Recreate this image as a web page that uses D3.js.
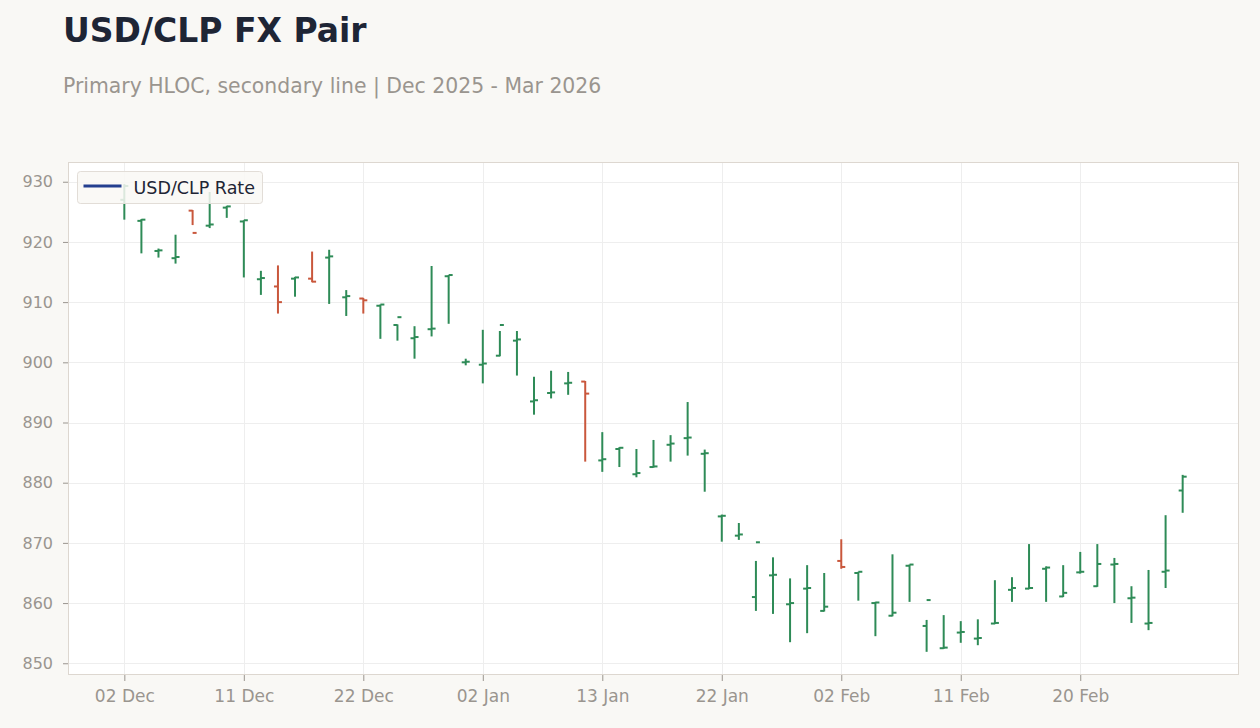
<!DOCTYPE html>
<html>
<head>
<meta charset="utf-8">
<script src="https://cdn.jsdelivr.net/npm/d3@7"></script>
<style>
  body { margin: 0; background: #f9f8f5; font-family: "DejaVu Sans", sans-serif; }
  .axisNormal text { fill: #9a958f; font-family: "DejaVu Sans", sans-serif; }
  .axisNormal path { display: none; }
  .axisNormal line { stroke: #9a958f; }
</style>
</head>
<body>
<svg id="svgchart" width="1260" height="728"></svg>
<script>
// trading days (Dec 25 and Jan 1 skipped)
var days = ["2025-12-02","2025-12-03","2025-12-04","2025-12-05","2025-12-08","2025-12-09","2025-12-10","2025-12-11","2025-12-12",
  "2025-12-15","2025-12-16","2025-12-17","2025-12-18","2025-12-19","2025-12-22","2025-12-23","2025-12-24","2025-12-26",
  "2025-12-29","2025-12-30","2025-12-31","2026-01-02","2026-01-05","2026-01-06","2026-01-07","2026-01-08","2026-01-09",
  "2026-01-12","2026-01-13","2026-01-14","2026-01-15","2026-01-16","2026-01-19","2026-01-20","2026-01-21","2026-01-22",
  "2026-01-23","2026-01-26","2026-01-27","2026-01-28","2026-01-29","2026-01-30","2026-02-02","2026-02-03","2026-02-04",
  "2026-02-05","2026-02-06","2026-02-09","2026-02-10","2026-02-11","2026-02-12","2026-02-13","2026-02-16","2026-02-17",
  "2026-02-18","2026-02-19","2026-02-20","2026-02-23","2026-02-24","2026-02-25","2026-02-26","2026-02-27","2026-03-02"];

var openVals = [927.0,923.5,918.5,917.3,925.2,922.7,925.7,923.4,913.8,912.6,913.9,913.9,917.4,910.8,910.6,909.4,906.2,904.0,
  905.5,914.3,900.0,899.6,901.1,903.6,893.5,894.9,896.5,896.8,883.7,885.6,881.4,882.6,886.3,887.4,884.8,874.4,
  871.2,861.0,864.6,859.8,862.4,858.7,867.0,865.0,860.0,857.9,866.2,856.2,852.5,855.1,854.1,856.6,862.2,862.4,
  865.7,861.1,865.1,862.8,866.4,860.8,856.6,865.2,878.7];
var highVals = [929.6,923.8,918.9,921.2,925.3,928.3,926.0,923.6,915.2,916.1,914.2,918.4,918.7,912.0,910.7,909.6,906.3,906.0,
  916.0,914.5,900.6,905.4,905.2,905.2,897.6,898.6,898.4,896.9,888.4,885.9,885.6,887.1,887.9,893.4,885.5,874.7,
  873.3,867.0,867.6,864.1,866.3,865.0,870.6,865.2,860.2,868.1,866.4,857.2,858.0,857.0,857.3,863.8,864.3,869.8,
  866.1,866.3,868.5,869.8,867.5,862.8,865.5,874.6,881.3];
var lowVals = [923.7,918.1,917.4,916.4,922.8,922.3,924.0,914.1,911.2,908.1,910.9,913.3,909.7,907.7,908.1,903.9,903.6,900.6,
  904.3,906.4,899.5,896.5,901.0,897.8,891.3,894.0,894.6,883.5,881.8,882.6,880.9,882.5,883.5,884.5,878.5,870.2,
  870.5,858.7,858.2,853.5,855.0,858.6,865.7,860.4,854.5,857.8,860.2,851.9,852.4,853.4,853.0,856.5,860.2,862.3,
  860.2,861.0,864.9,862.7,860.0,856.7,855.5,862.5,875.0];
var closeVals = [929.3,923.7,918.6,917.5,921.5,922.9,925.9,923.6,914.0,910.0,914.1,913.4,917.6,911.0,910.3,909.6,907.5,904.2,
  905.6,914.5,900.1,899.8,906.2,903.8,893.7,895.0,896.6,894.8,883.9,885.8,881.6,882.7,886.5,887.5,884.9,874.5,
  871.4,870.1,864.7,860.0,862.5,859.4,866.0,865.2,860.1,858.4,866.4,860.5,852.6,855.2,854.2,856.7,862.5,862.5,
  865.9,861.7,865.2,866.5,866.5,860.9,856.7,865.4,881.0];

var yTicks = [850, 860, 870, 880, 890, 900, 910, 920, 930];
var legendLabel = "USD/CLP Rate";

var svg = d3.select("#svgchart");
var margin = {top: 162, right: 21, bottom: 53, left: 68},
width = 1260 - margin.left - margin.right,
height = 728 - margin.top - margin.bottom;

var parseDay = d3.timeParse("%Y-%m-%d");
var fmtDay = d3.timeFormat("%d %b");

var data = days.map(function(d, i) {
  return {date: parseDay(d), open: openVals[i], high: highVals[i], low: lowVals[i], close: closeVals[i]};
});

// title block
svg.append("text")
  .attr("x", 63).attr("y", 42)
  .style("font-size", "33px").style("font-weight", "bold")
  .attr("fill", "#1e2535")
  .text("USD/CLP FX Pair");
svg.append("text")
  .attr("x", 63).attr("y", 93)
  .style("font-size", "20.4px")
  .attr("fill", "#9a958f")
  .text("Primary HLOC, secondary line | Dec 2025 - Mar 2026");

var g = svg.append("g").attr("transform", "translate(" + margin.left + "," + margin.top + ")");

g.append("rect")
  .attr("width", width).attr("height", height)
  .attr("fill", "#ffffff");

var xScale = d3.scalePoint()
  .domain(d3.range(data.length))
  .range([0, width])
  .padding(3.3);

var yScale = d3.scaleLinear()
  .domain([848.05, 933.28])
  .range([height, 0]);

var xTickIdx = d3.range(0, data.length, 7);

// grid
g.append("g").selectAll("line").data(yTicks).enter().append("line")
  .attr("x1", 0).attr("x2", width)
  .attr("y1", function(d) { return Math.round(yScale(d)) + 0.5; })
  .attr("y2", function(d) { return Math.round(yScale(d)) + 0.5; })
  .attr("stroke", "#eeeeee");
g.append("g").selectAll("line").data(xTickIdx).enter().append("line")
  .attr("y1", 0).attr("y2", height)
  .attr("x1", function(d) { return Math.round(xScale(d)) + 0.5; })
  .attr("x2", function(d) { return Math.round(xScale(d)) + 0.5; })
  .attr("stroke", "#eeeeee");

// axes
g.append("g")
  .attr("class", "axisNormal")
  .attr("transform", "translate(0," + height + ")")
  .call(d3.axisBottom(xScale).tickValues(xTickIdx).tickSize(6).tickPadding(9)
    .tickFormat(function(i) { return fmtDay(data[i].date); }))
  .selectAll("text").style("font-size", "17px");

g.append("g")
  .attr("class", "axisNormal")
  .call(d3.axisLeft(yScale).tickValues(yTicks).tickSize(5).tickPadding(10))
  .selectAll("text").style("font-size", "16px");

// HLOC bars
var colorOf = function(d) { return d.close >= d.open ? "#2e8b57" : "#c9573c"; };
var bars = g.append("g").selectAll("g").data(data).enter().append("g")
  .attr("transform", function(d, i) { return "translate(" + xScale(i) + ",0)"; });

bars.append("line")
  .attr("y1", function(d) { return yScale(d.high); })
  .attr("y2", function(d) { return yScale(d.low); })
  .attr("stroke", colorOf).attr("stroke-width", 2);
bars.append("line")
  .attr("x1", -4).attr("x2", 0)
  .attr("y1", function(d) { return yScale(d.open); })
  .attr("y2", function(d) { return yScale(d.open); })
  .attr("stroke", colorOf).attr("stroke-width", 2);
bars.append("line")
  .attr("x1", 0).attr("x2", 4)
  .attr("y1", function(d) { return yScale(d.close); })
  .attr("y2", function(d) { return yScale(d.close); })
  .attr("stroke", colorOf).attr("stroke-width", 2);

// plot frame
g.append("rect")
  .attr("x", 0.5).attr("y", 0.5)
  .attr("width", width - 1).attr("height", height - 1)
  .attr("fill", "none").attr("stroke", "#ddd7d0");

// legend
var legend = g.append("g").attr("transform", "translate(9.5,9.5)");
legend.append("rect")
  .attr("width", 185).attr("height", 32).attr("rx", 3)
  .attr("fill", "#f9f8f5").attr("fill-opacity", 0.85)
  .attr("stroke", "#e2ddd7");
legend.append("line")
  .attr("x1", 6).attr("x2", 44).attr("y1", 14.5).attr("y2", 14.5)
  .attr("stroke", "#243f8f").attr("stroke-width", 3);
legend.append("text")
  .attr("x", 56).attr("y", 22)
  .style("font-size", "17.5px")
  .attr("fill", "#1e2535")
  .text(legendLabel);
</script>
</body>
</html>
